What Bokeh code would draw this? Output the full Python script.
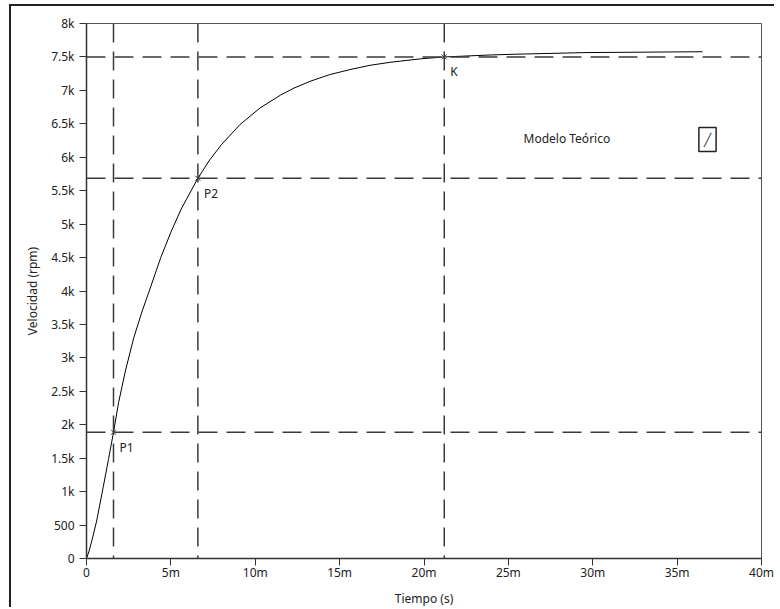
from bokeh.plotting import figure
from bokeh.models import Range1d, FixedTicker, Span, Label
from bokeh.embed import file_html
from bokeh.resources import INLINE
from bokeh.core.properties import value

# ---- data (time in s, speed in rpm) ----
tiempo = [0, 0.00015, 0.0003, 0.0006, 0.0010, 0.0013, 0.0016, 0.0019, 0.0023, 0.0028,
          0.0033, 0.0038, 0.0044, 0.0050, 0.0056, 0.0066, 0.0073, 0.0080, 0.0091,
          0.0103, 0.0115, 0.0123, 0.0133, 0.0144, 0.0156, 0.0168, 0.0180, 0.0198,
          0.0212, 0.0240, 0.0253, 0.0296, 0.0365]
velocidad = [0, 110, 250, 560, 1080, 1480, 1888, 2330, 2800, 3300,
             3700, 4060, 4500, 4880, 5220, 5686, 5960, 6190, 6490,
             6740, 6930, 7035, 7140, 7235, 7310, 7375, 7420, 7472,
             7500, 7530, 7540, 7565, 7578]

cursor_name = ["P1", "P2", "K"]
cursor_t = [0.0016, 0.0066, 0.0212]
cursor_v = [1888, 5686, 7500]

x_ticks = [0, 0.005, 0.01, 0.015, 0.02, 0.025, 0.03, 0.035, 0.04]
x_tick_labels = ["0", "5m", "10m", "15m", "20m", "25m", "30m", "35m", "40m"]
y_ticks = [0, 500, 1000, 1500, 2000, 2500, 3000, 3500, 4000, 4500, 5000,
           5500, 6000, 6500, 7000, 7500, 8000]
y_tick_labels = ["0", "500", "1k", "1.5k", "2k", "2.5k", "3k", "3.5k", "4k", "4.5k",
                 "5k", "5.5k", "6k", "6.5k", "7k", "7.5k", "8k"]

legend_label = "Modelo Teórico"

FONT = "Noto Sans"
TXT = "#222222"

p = figure(width=765, height=603,
           x_range=Range1d(0, 0.04), y_range=Range1d(0, 8000),
           output_backend="svg", toolbar_location=None,
           min_border_left=75, min_border_top=17, min_border_right=15,
           min_border_bottom=49,
           x_axis_label="Tiempo (s)", y_axis_label="Velocidad (rpm)")
p.margin = (4, 0, 0, 9)
p.styles = {"border-top": "2px solid #222", "border-left": "2px solid #222"}

p.xgrid.visible = False
p.ygrid.visible = False
p.outline_line_color = "#555555"
p.outline_line_width = 1
p.background_fill_color = "white"
p.border_fill_color = "white"

p.xaxis.ticker = FixedTicker(ticks=x_ticks)
p.xaxis.major_label_overrides = dict(zip(x_ticks, x_tick_labels))
p.yaxis.ticker = FixedTicker(ticks=y_ticks)
p.yaxis.major_label_overrides = dict(zip(y_ticks, y_tick_labels))

for ax in (p.xaxis, p.yaxis):
    ax.minor_tick_line_color = None
    ax.major_tick_in = 0
    ax.major_tick_out = 7
    ax.major_tick_line_color = "#333333"
    ax.axis_line_color = "#333333"
    ax.axis_line_width = 1.5
    ax.major_label_text_font = FONT
    ax.major_label_text_font_size = "12px"
    ax.major_label_text_color = TXT
    ax.axis_label_text_font = FONT
    ax.axis_label_text_font_size = "12px"
    ax.axis_label_text_font_style = "normal"
    ax.axis_label_text_color = TXT
p.xaxis.major_label_standoff = -2
p.xaxis.axis_label_standoff = 6
p.yaxis.major_label_standoff = 5
p.yaxis.axis_label_standoff = 7

# cursors
for t, v in zip(cursor_t, cursor_v):
    p.add_layout(Span(location=t, dimension="height", line_color="#3a3a3a",
                      line_width=1.5, line_dash="19 9"))
    p.add_layout(Span(location=v, dimension="width", line_color="#3a3a3a",
                      line_width=1.5, line_dash="19 9"))

p.line(tiempo, velocidad, line_color="black", line_width=1)

p.scatter(cursor_t, cursor_v, marker="x", size=7, line_color="#333333", line_width=1)
p.text(cursor_t, cursor_v, text=cursor_name, x_offset=6, y_offset=15,
       text_font=value(FONT), text_font_size="12px", text_color=TXT,
       text_baseline="middle", text_align="left")

# legend (label on the left, plot icon on the right); screen units are frame-relative
p.add_layout(Label(x=437, y=420, x_units="screen", y_units="screen",
                   text=legend_label, text_font=FONT, text_font_size="12px",
                   text_color=TXT, text_baseline="middle", text_align="left"))
p.add_layout(Label(x=621, y=419, x_units="screen", y_units="screen",
                   text="╱", text_font="DejaVu Sans", text_font_size="12px",
                   text_color="#333333", text_baseline="middle", text_align="center",
                   border_line_color="#222222", border_line_width=1.5,
                   background_fill_color="white", padding=5))

open("out.html", "w").write(file_html(p, INLINE))
